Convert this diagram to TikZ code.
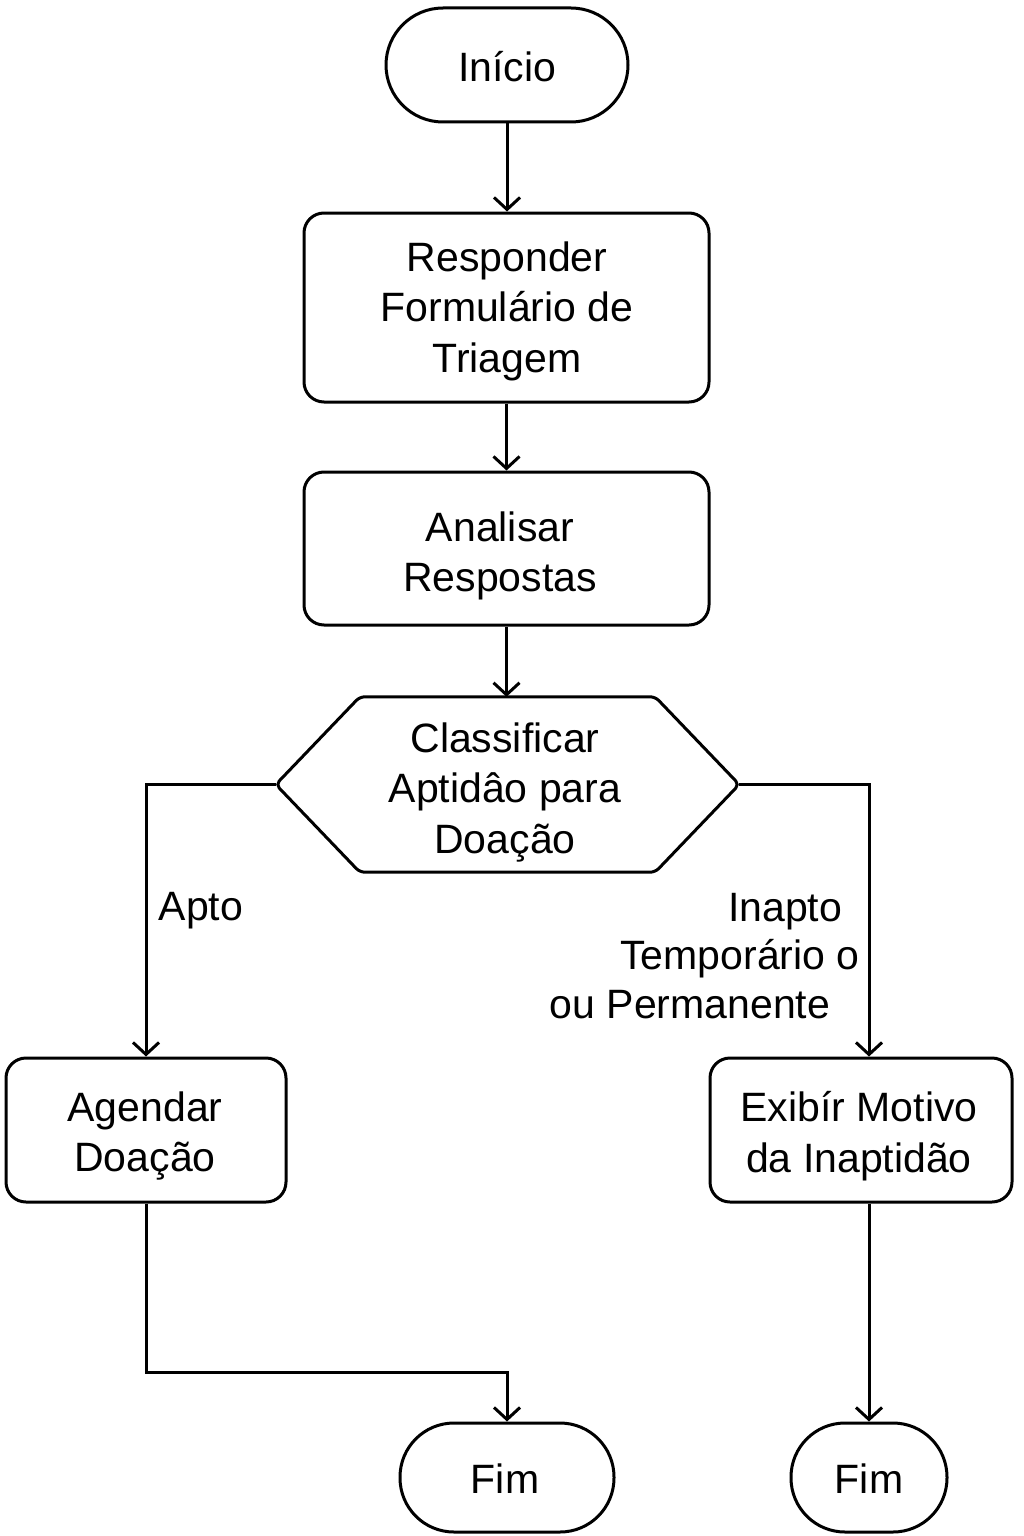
\documentclass[tikz,border=0pt]{standalone}
\usepackage{fontspec}
\setmainfont{Liberation Sans}
\usetikzlibrary{arrows.meta,calc}
\begin{document}
\begin{tikzpicture}[x=1pt,y=-1pt,
  every node/.style={font=\fontsize{41}{50.5}\selectfont, align=center, inner sep=0pt},
  box/.style={draw, line width=3pt, rounded corners=20pt},
  term/.style={draw, line width=3pt, rounded corners=54pt},
  lbl/.style={},
  arr/.style={line width=3pt, -{Straight Barb[length=12pt,width=26pt]}},
  ln/.style={line width=3pt}]
\useasboundingbox (0,0) rectangle (1024,1536);
\node[term, rounded corners=57pt, minimum width=242pt, minimum height=114pt] (inicio) at (507,65) {};
\node (inicioT) at (507,67) {Início};
\node[box, minimum width=405pt, minimum height=189pt] (resp) at (506.5,307.5) {};
\node (respT) at (507,311) {Responder\\Formulário de\\Triagem};
\node[box, minimum width=405pt, minimum height=153pt] (anal) at (506.5,548.5) {};
\node (analT) at (500,556) {Analisar\\Respostas};
\node[minimum width=463pt, minimum height=175pt] (hex) at (507.5,784.5) {};
\node (hexT) at (505,792) {Classificar\\Aptidâo para\\Doação};
\draw[ln, rounded corners=5pt] (hex.west) -- ($(hex.north west)+(84,0)$) -- ($(hex.north east)+(-84,0)$) -- (hex.east) -- ($(hex.south east)+(-84,0)$) -- ($(hex.south west)+(84,0)$) -- cycle;
\node[box, minimum width=280pt, minimum height=144pt] (agendar) at (146,1130) {};
\node (agendarT) at (145,1136) {Agendar\\Doação};
\node[box, minimum width=302pt, minimum height=144pt] (exibir) at (861,1130) {};
\node (exibirT) at (859,1136) {Exibír Motivo\\da Inaptidão};
\node[term, minimum width=214pt, minimum height=109pt] (fim1) at (507,1477.5) {};
\node (fim1T) at (505,1479) {Fim};
\node[term, minimum width=156pt, minimum height=109pt] (fim2) at (869,1477.5) {};
\node (fim2T) at (869,1479) {Fim};
\node[lbl] (apto) at (201,911) {Apto};
\node[lbl] (inap1) at (785,912) {Inapto};
\node[lbl] (inap2) at (740,959) {Temporário o};
\node[lbl] (inap3) at (690,1005) {ou Permanente};
\coordinate (turn) at (146,1372);
\draw[arr] (inicio.south) -- (resp.north -| inicio.south);
\draw[arr] (resp.south) -- (anal.north);
\draw[arr] (anal.south) -- (anal.south |- hex.north);
\draw[arr] (hex.west) -| (agendar.north);
\draw[arr] (hex.east) -| ([xshift=8pt]exibir.north);
\draw[arr] (agendar.south) -- (turn) -| (fim1.north);
\draw[arr] ([xshift=8pt]exibir.south) -- (fim2.north);
\end{tikzpicture}
\end{document}
